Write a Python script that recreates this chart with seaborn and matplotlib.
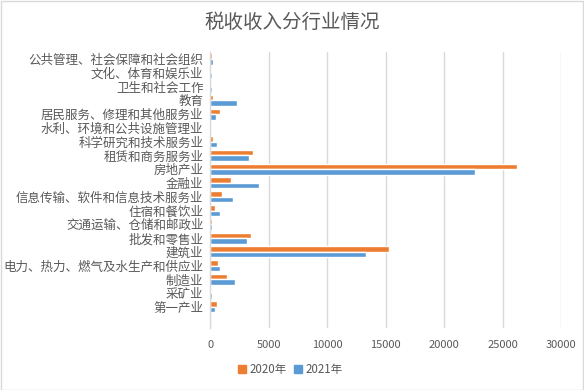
import pandas as pd
import numpy as np
import matplotlib.pyplot as plt
import seaborn as sns
from matplotlib.patches import Rectangle

# categories, top to bottom as in the chart
industries = ['公共管理、社会保障和社会组织', '文化、体育和娱乐业', '卫生和社会工作', '教育',
              '居民服务、修理和其他服务业', '水利、环境和公共设施管理业', '科学研究和技术服务业',
              '租赁和商务服务业', '房地产业', '金融业', '信息传输、软件和信息技术服务业',
              '住宿和餐饮业', '交通运输、仓储和邮政业', '批发和零售业', '建筑业',
              '电力、热力、燃气及水生产和供应业', '制造业', '采矿业', '第一产业']
tax_2020 = [100, 60, 60, 230, 830, 50, 230, 3630, 26200, 1750, 980,
            385, 100, 3460, 15260, 640, 1430, 20, 570]
tax_2021 = [230, 100, 100, 2280, 490, 80, 560, 3290, 22600, 4145, 1920,
            810, 130, 3120, 13290, 810, 2110, 100, 400]
years = ['2020年', '2021年']
x_ticks = [0, 5000, 10000, 15000, 20000, 25000, 30000]

df = pd.DataFrame({'行业': industries * 2,
                   '年份': [years[0]] * len(industries) + [years[1]] * len(industries),
                   '税收': tax_2020 + tax_2021})

sns.set_style("white")
plt.rcParams['font.family'] = ['Noto Sans CJK SC', 'DejaVu Sans']
grey = '#595959'

fig = plt.figure(figsize=(5.84, 3.90), dpi=100)
ax = fig.add_axes([0.3604, 0.160, 0.6007, 0.7064])

sns.barplot(data=df, y='行业', x='税收', hue='年份', hue_order=years, order=industries,
            palette=['#ED7D31', '#5B9BD5'], width=0.8, orient='h', ax=ax,
            saturation=1, legend=False)

# extra empty slot at the bottom, as in the original sheet
ax.set_ylim(len(industries) - 0.5 + 1, -0.5)
ax.set_xlim(0, 30000)
ax.set_xticks(x_ticks)
ax.set_xticklabels([str(t) for t in x_ticks], fontsize=8, color=grey)
ax.tick_params(axis='x', length=0, pad=9)
ax.tick_params(axis='y', length=0, pad=5, labelsize=9, labelcolor=grey)
ax.set_xlabel('')
ax.set_ylabel('')
ax.grid(axis='x', color='#D9D9D9', linewidth=1)
ax.set_axisbelow(True)
for side in ['top', 'right', 'bottom']:
    ax.spines[side].set_visible(False)
ax.spines['left'].set_color('#D9D9D9')
ax.spines['left'].set_linewidth(1)

fig.text(0.5, 0.943, '税收收入分行业情况', ha='center', va='center', fontsize=14, color=grey)

handles = [Rectangle((0, 0), 1, 1, color=c) for c in ['#ED7D31', '#5B9BD5']]
fig.legend(handles, years, loc='center', bbox_to_anchor=(0.497, 0.052), ncol=2, frameon=False,
           fontsize=8.3, labelcolor=grey, handlelength=0.7, handleheight=0.7,
           handletextpad=0.3, columnspacing=0.6)

fig.patches.append(Rectangle((0.001, 0.001), 0.997, 0.997, transform=fig.transFigure,
                             fill=False, edgecolor='#D9D9D9', linewidth=1))

plt.savefig('out.png', dpi=100)
